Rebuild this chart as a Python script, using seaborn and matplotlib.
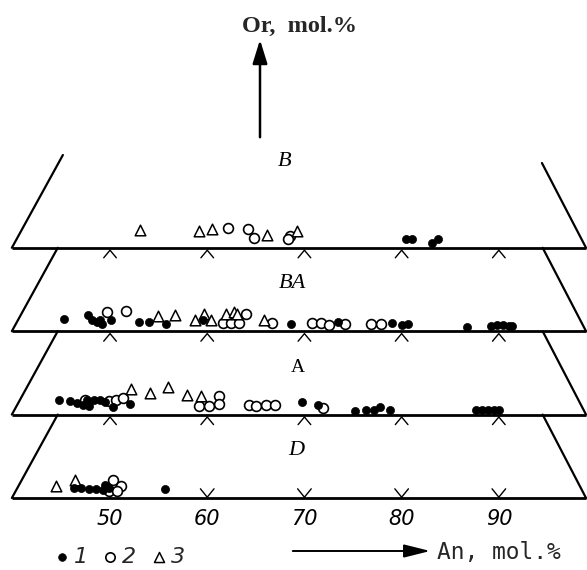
import matplotlib
matplotlib.use("Agg")
import matplotlib.pyplot as plt
import seaborn as sns
import pandas as pd

# ---------------- data (An mol.%, Or offset, mineral type 1/2/3) ----------------
planes = ["D", "A", "BA", "B"]
tick_values = [50, 60, 70, 80, 90]
type_labels = ["1", "2", "3"]

B_an = [53.1, 59.2, 60.5, 62.1, 64.2, 64.8, 66.2, 68.5, 68.3, 69.2, 80.4, 81.1, 83.1, 83.7]
B_or = [4.4, 4.2, 4.6, 5.0, 4.6, 2.5, 3.3, 2.9, 2.1, 4.2, 2.3, 2.3, 1.25, 2.3]
B_type = [3, 3, 3, 2, 2, 2, 3, 2, 2, 3, 1, 1, 1, 1]

BA_an = [45.3, 47.7, 48.1, 48.65, 49.2, 49.0, 50.1, 49.7, 51.6, 53.0,
         54.0, 55.8, 54.9, 56.7, 58.7, 59.7, 60.4, 59.6, 61.9, 62.8,
         63.1, 64.0, 61.65, 62.4, 63.3, 65.8, 66.7, 68.65, 70.8, 71.7,
         72.5, 73.5, 74.2, 76.8, 77.9, 79.0, 80.0, 80.7, 86.7, 89.2,
         89.8, 90.4, 91.0, 91.35]
BA_or = [3.0, 4.0, 2.75, 2.3, 1.75, 2.75, 2.75, 4.8, 5.1, 2.3,
         2.3, 1.7, 3.8, 4.0, 2.75, 4.4, 2.75, 2.75, 4.4, 4.8,
         4.25, 4.4, 2.1, 2.1, 2.1, 2.9, 2.1, 1.9, 2.1, 2.1,
         1.5, 2.3, 1.9, 1.75, 1.75, 2.1, 1.5, 1.75, 1.1, 1.3,
         1.5, 1.5, 1.3, 1.3]
BA_type = [1, 1, 1, 1, 1, 1, 1, 2, 2, 1,
           1, 1, 3, 3, 3, 3, 3, 1, 3, 3,
           3, 2, 2, 2, 2, 3, 2, 1, 2, 2,
           2, 1, 2, 2, 2, 1, 1, 1, 1, 1,
           1, 1, 1, 1]

A_an = [44.7, 45.85, 46.6, 47.2, 47.8, 47.6, 48.4, 49.0, 49.5, 50.3,
        52.05, 69.7, 71.4, 75.2, 76.3, 77.2, 77.8, 78.8, 87.7, 88.3,
        88.9, 89.5, 90.0,
        47.4, 49.9, 50.6, 51.3, 61.2, 59.2, 60.2, 61.2, 64.3, 65.0,
        66.0, 67.0, 71.9,
        52.2, 54.1, 56.0, 57.9, 59.4]
A_or = [3.6, 3.3, 2.9, 2.3, 2.1, 3.6, 3.6, 3.75, 3.2, 1.9,
        2.6, 3.2, 2.3, 0.9, 1.1, 1.25, 1.9, 1.25, 1.1, 1.1,
        1.1, 1.1, 1.1,
        3.75, 3.3, 3.75, 4.2, 4.6, 2.1, 2.1, 2.75, 2.3, 2.1,
        2.3, 2.3, 1.75,
        6.5, 5.5, 6.9, 4.8, 4.6]
A_type = [1] * 23 + [2] * 13 + [3] * 5

D_an = [44.4, 46.4,
        46.25, 47.0, 47.8, 48.6, 49.3, 49.5, 49.9, 55.7,
        50.3, 51.1, 49.9, 50.7]
D_or = [2.9, 4.4,
        2.5, 2.5, 2.25, 2.25, 2.1, 3.3, 2.5, 2.3,
        4.6, 2.9, 1.7, 1.7]
D_type = [3, 3] + [1] * 8 + [2] * 4

# ---------------- layout ----------------
SPACING = 20.85
frames = []
for i, (name, an, orr, typ) in enumerate(zip(planes, [D_an, A_an, BA_an, B_an],
                                             [D_or, A_or, BA_or, B_or],
                                             [D_type, A_type, BA_type, B_type])):
    frames.append(pd.DataFrame({"An": an, "Or": orr, "type": typ, "plane": name,
                                "y": [i * SPACING + v for v in orr]}))
df = pd.concat(frames, ignore_index=True)

sns.set_theme(style="white")
plt.rcParams["font.family"] = ["DejaVu Sans"]

fig = plt.figure(figsize=(5.87, 5.70), dpi=100)
ax = fig.add_axes([0, 0, 1, 1])
ax.set_xlim(38.68, 99.07)
ax.set_ylim(-18, 124.5)
ax.axis("off")

X_LEFT, X_RIGHT = 39.9, 98.97
SL_LEFT, SL_RIGHT = 0.2263, 0.214
LW = 1.6
label_x = {"D": 69.2, "A": 69.3, "BA": 68.8, "B": 68.0}
label_size = {"D": 16, "A": 14, "BA": 16, "B": 16}
for i, name in enumerate(planes):
    base = i * SPACING
    top = i == len(planes) - 1
    hl = 23.2 if top else SPACING
    hr = 21.2 if top else SPACING
    ax.plot([X_LEFT, X_RIGHT], [base, base], color="black", lw=2.0, solid_capstyle="butt")
    ax.plot([X_LEFT, X_LEFT + SL_LEFT * hl], [base, base + hl], color="black", lw=LW)
    ax.plot([X_RIGHT, X_RIGHT - SL_RIGHT * hr], [base, base + hr], color="black", lw=LW)
    for t in tick_values:
        if i == 0:
            ax.plot([t - 0.7, t, t + 0.7], [base + 2.3, base + 0.2, base + 2.3], color="black", lw=1.0)
        else:
            ax.plot([t - 0.65, t, t + 0.65], [base - 2.5, base - 0.6, base - 2.5], color="black", lw=1.0)
    lab_h = 21.5 if top else 11.8
    style = "normal" if name == "A" else "italic"
    ax.text(label_x[name], base + lab_h, name, family="Liberation Serif", style=style,
            fontsize=label_size[name], ha="center", va="center", color="black")

# markers
d2 = df[df["type"] == 2]
d3 = df[df["type"] == 3]
d1 = df[df["type"] == 1]
sns.scatterplot(data=d2, x="An", y="y", marker="o", s=50, color="white",
                edgecolor="black", linewidth=1.2, ax=ax, label=type_labels[1], zorder=3)
sns.scatterplot(data=d3, x="An", y="y", marker="^", s=58, color="white",
                edgecolor="black", linewidth=1.1, ax=ax, label=type_labels[2], zorder=3)
sns.scatterplot(data=d1, x="An", y="y", marker="o", s=34, color="black",
                edgecolor="black", linewidth=0.5, ax=ax, label=type_labels[0], zorder=4)

# tick labels
for t in tick_values:
    ax.text(t, -5.3, str(t), style="italic", fontsize=15, ha="center", va="center",
            color="black")

# legend
handles, labels = ax.get_legend_handles_labels()
order = [labels.index(l) for l in type_labels]
leg = ax.legend([handles[k] for k in order], [labels[k] for k in order],
                ncol=3, loc="center left", bbox_to_anchor=(56 / 587, 1 - 557 / 570),
                frameon=False, handletextpad=0.3, columnspacing=0.75,
                markerscale=0.95, prop={"style": "italic", "size": 16},
                borderaxespad=0, borderpad=0, handlelength=0.5)

# arrows and axis texts
ax.annotate("", xy=(260 / 587, 1 - 37 / 570), xytext=(260 / 587, 1 - 140 / 570),
            xycoords="figure fraction", textcoords="figure fraction",
            arrowprops=dict(arrowstyle="-|>,head_length=0.9,head_width=0.28",
                            color="black", lw=1.8, mutation_scale=16))
fig.text(300 / 587, 1 - 26 / 570, "Or,  mol.%", family="Liberation Serif",
         fontsize=17.5, fontweight="bold", ha="center", va="center")
ax.annotate("", xy=(433 / 587, 1 - 551 / 570), xytext=(290 / 587, 1 - 551 / 570),
            xycoords="figure fraction", textcoords="figure fraction",
            arrowprops=dict(arrowstyle="-|>,head_length=1.0,head_width=0.25",
                            color="black", lw=1.4, mutation_scale=16))
fig.text(437 / 587, 1 - 553 / 570, "An, mol.%", family="DejaVu Sans Mono",
         fontsize=16.5, ha="left", va="center")

fig.savefig("out.png", dpi=100, facecolor="white")
